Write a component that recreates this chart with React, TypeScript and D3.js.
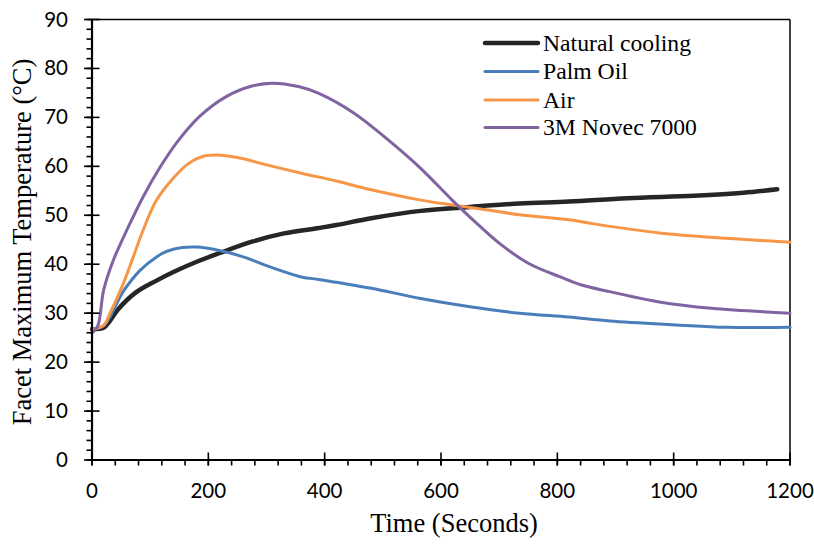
import React from "react";
import * as d3 from "d3";

const naturalTime = [0, 20, 30, 45, 75, 110, 140, 180, 220, 275, 330, 390, 420, 480, 565, 650, 735, 820, 920, 1035, 1120, 1178];
const naturalTemp = [26.7, 27.0, 28.3, 30.8, 34.2, 36.6, 38.4, 40.5, 42.3, 44.6, 46.3, 47.4, 48.0, 49.4, 50.9, 51.7, 52.4, 52.8, 53.5, 54.0, 54.6, 55.3];

const palmTime = [0, 20, 54, 83, 111, 130, 155, 180, 215, 260, 305, 360, 390, 420, 480, 565, 650, 735, 820, 890, 1005, 1090, 1200];
const palmTemp = [26.7, 27.4, 34.5, 38.8, 41.5, 42.7, 43.4, 43.5, 42.9, 41.5, 39.5, 37.4, 36.9, 36.3, 35.1, 33.0, 31.3, 30.0, 29.2, 28.4, 27.6, 27.1, 27.1];

const airTime = [0, 20, 31, 54, 71, 88, 111, 140, 165, 190, 215, 250, 300, 360, 420, 480, 565, 620, 680, 735, 820, 860, 975, 1090, 1200];
const airTemp = [26.7, 27.5, 30.0, 36.1, 41.5, 47.0, 53.1, 57.6, 60.5, 62.0, 62.3, 61.8, 60.3, 58.6, 57.0, 55.2, 53.1, 52.1, 51.1, 50.1, 49.1, 48.3, 46.4, 45.3, 44.5];

const novecTime = [0, 10, 20, 37, 60, 88, 117, 146, 185, 230, 275, 310, 355, 390, 450, 505, 565, 620, 660, 700, 750, 805, 840, 890, 975, 1065, 1200];
const novecTemp = [25.9, 27.4, 34.7, 40.9, 47.0, 53.8, 59.8, 64.9, 70.2, 74.2, 76.4, 77.0, 76.3, 74.9, 70.9, 65.8, 59.6, 53.0, 48.5, 44.3, 40.2, 37.4, 35.8, 34.4, 32.3, 31.0, 30.0];

const seriesNames = ["Natural cooling", "Palm Oil", "Air", "3M Novec 7000"];
const seriesColors = ["#262626", "#4a7ebb", "#f79646", "#8064a2"];
const seriesWidths = [4.5, 3, 3, 3];

const yTicks = [0, 10, 20, 30, 40, 50, 60, 70, 80, 90];
const xTicks = [0, 200, 400, 600, 800, 1000, 1200];

export default function App() {
  const left = 92, right = 790, top = 19.5, bottom = 460;
  const x = d3.scaleLinear().domain([0, 1200]).range([left, right]);
  const y = d3.scaleLinear().domain([0, 90]).range([bottom, top]);

  const series = [
    { t: naturalTime, v: naturalTemp },
    { t: palmTime, v: palmTemp },
    { t: airTime, v: airTemp },
    { t: novecTime, v: novecTemp },
  ];

  const line = d3
    .line<[number, number]>()
    .x((d) => x(d[0]))
    .y((d) => y(d[1]))
    .curve(d3.curveCatmullRom.alpha(0.5));

  const yMinor = d3.range(0, 90.001, 2);
  const xMinor = d3.range(0, 1200.001, 40);

  const legendX1 = 485, legendX2 = 538;
  const legendY = [43, 71.5, 100, 127.5];

  return (
    <svg
      width={814}
      height={544}
      style={{ position: "absolute", left: 0, top: 0, background: "#fff" }}
    >
      <rect x={0} y={0} width={814} height={544} fill="#fff" />
      <line x1={left} x2={right} y1={top} y2={top} stroke="#000" strokeWidth={1.5} />
      <line x1={right} x2={right} y1={top} y2={bottom} stroke="#000" strokeWidth={1.5} />

      {series.map((s, i) => (
        <path
          key={i}
          d={line(s.t.map((t, j) => [t, s.v[j]] as [number, number])) || ""}
          fill="none"
          stroke={seriesColors[i]}
          strokeWidth={seriesWidths[i]}
          strokeLinecap="round"
          strokeLinejoin="round"
        />
      ))}

      {yMinor.map((v) => (
        <line key={"ym" + v} x1={left - 5.5} x2={left} y1={y(v)} y2={y(v)} stroke="#000" strokeWidth={1.6} />
      ))}
      {yTicks.map((v) => (
        <g key={"yt" + v}>
          <line x1={left - 8} x2={left + 7.5} y1={y(v)} y2={y(v)} stroke="#000" strokeWidth={1.6} />
          <text
            x={68}
            y={y(v) + 7}
            textAnchor="end"
            fontFamily="Lato, 'Open Sans', sans-serif"
            fontSize={20.5}
            fill="#000"
          >
            {v}
          </text>
        </g>
      ))}
      <line x1={left} x2={left} y1={top - 0.5} y2={bottom + 1} stroke="#000" strokeWidth={2.2} />

      {xMinor.map((v) => (
        <line key={"xm" + v} x1={x(v)} x2={x(v)} y1={bottom} y2={bottom + 5.5} stroke="#000" strokeWidth={1.6} />
      ))}
      {xTicks.map((v) => (
        <g key={"xt" + v}>
          <line x1={x(v)} x2={x(v)} y1={bottom - 7.5} y2={bottom + 5.5} stroke="#000" strokeWidth={1.6} />
          <text
            x={x(v)}
            y={498}
            textAnchor="middle"
            fontFamily="Lato, 'Open Sans', sans-serif"
            fontSize={20.5}
            fill="#000"
          >
            {v}
          </text>
        </g>
      ))}
      <line x1={left - 1} x2={right} y1={bottom} y2={bottom} stroke="#000" strokeWidth={2.2} />

      <text
        x={454}
        y={532}
        textAnchor="middle"
        fontFamily="'Liberation Serif', 'Times New Roman', serif"
        fontSize={26.5}
        fill="#000"
      >
        Time (Seconds)
      </text>
      <text
        transform={`translate(31,242) rotate(-90)`}
        textAnchor="middle"
        fontFamily="'Liberation Serif', 'Times New Roman', serif"
        fontSize={26.5}
        fill="#000"
      >
        Facet Maximum Temperature (°C)
      </text>

      {seriesNames.map((n, i) => (
        <g key={"lg" + i}>
          <line
            x1={legendX1}
            x2={legendX2}
            y1={legendY[i]}
            y2={legendY[i]}
            stroke={seriesColors[i]}
            strokeWidth={seriesWidths[i]}
            strokeLinecap="round"
          />
          <text
            x={543}
            y={legendY[i] + 7.5}
            fontFamily="'Liberation Serif', 'Times New Roman', serif"
            fontSize={23.7}
            fill="#000"
          >
            {n}
          </text>
        </g>
      ))}
    </svg>
  );
}
